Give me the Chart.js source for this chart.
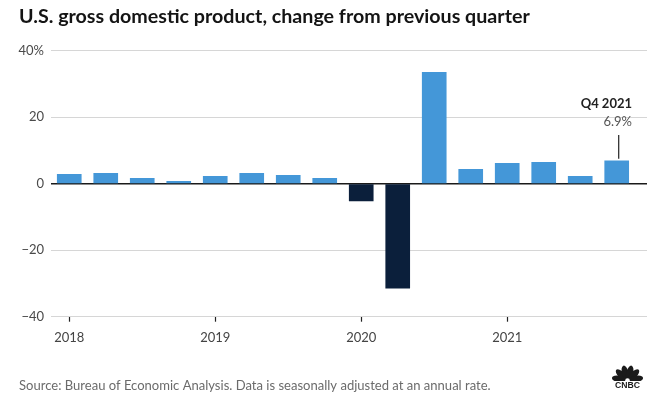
<!DOCTYPE html>
<html>
<head>
<meta charset="utf-8">
<script src="https://cdn.jsdelivr.net/npm/chart.js@4"></script>
<style>
html,body{margin:0;padding:0;background:#fff;}
#wrap{position:relative;width:660px;height:399px;}
</style>
</head>
<body>
<div id="wrap"><canvas id="c" width="660" height="399"></canvas></div>
<script>
const quarters = ['Q1 2018','Q2 2018','Q3 2018','Q4 2018','Q1 2019','Q2 2019','Q3 2019','Q4 2019','Q1 2020','Q2 2020','Q3 2020','Q4 2020','Q1 2021','Q2 2021','Q3 2021','Q4 2021'];
const gdpChange = [2.8, 3.1, 1.6, 0.7, 2.2, 3.1, 2.5, 1.6, -5.2, -31.4, 33.5, 4.3, 6.1, 6.4, 2.2, 6.9];
const yearLabels = ['2018','2019','2020','2021'];
const yearTickIndex = [0, 4, 8, 12];
const yTicks = [-40, -20, 0, 20, 40];
const titleText = 'U.S. gross domestic product, change from previous quarter';
const sourceText = 'Source: Bureau of Economic Analysis. Data is seasonally adjusted at an annual rate.';
const calloutTitle = 'Q4 2021';
const calloutValue = '6.9%';

const FONT = 'Lato, "Open Sans", sans-serif';
const BLUE = '#4497d8';
const NAVY = '#0b1f3b';

function fitFont(ctx, text, weight, targetW, base, fam) {
  ctx.font = weight + ' ' + base + 'px ' + (fam || FONT);
  const w = ctx.measureText(text).width;
  return base * targetW / w;
}

const decor = {
  id: 'decor',
  afterDraw(chart) {
    const ctx = chart.ctx;
    ctx.save();
    // title
    let fs = fitFont(ctx, titleText, 'bold', 511, 17);
    ctx.font = 'bold ' + fs.toFixed(2) + 'px ' + FONT;
    ctx.fillStyle = '#141414';
    ctx.textAlign = 'left';
    ctx.textBaseline = 'alphabetic';
    ctx.fillText(titleText, 19, 22.5);
    // source
    fs = fitFont(ctx, sourceText, 'normal', 472, 12.5);
    ctx.font = 'normal ' + fs.toFixed(2) + 'px ' + FONT;
    ctx.fillStyle = '#6b6b6b';
    ctx.textBaseline = 'middle';
    ctx.fillText(sourceText, 19, 386);
    // callout
    const xs = chart.scales.x, ys = chart.scales.y;
    const last = gdpChange.length - 1;
    const bx = xs.getPixelForValue(last) + 2;
    const by = ys.getPixelForValue(gdpChange[last]);
    ctx.strokeStyle = '#222';
    ctx.lineWidth = 1.2;
    ctx.beginPath();
    ctx.moveTo(bx, by - 2);
    ctx.lineTo(bx, 135);
    ctx.stroke();
    ctx.textAlign = 'right';
    ctx.font = 'bold 13px ' + FONT;
    ctx.fillStyle = '#222';
    ctx.fillText(calloutTitle, 632, 104);
    ctx.font = 'normal 13px ' + FONT;
    ctx.fillStyle = '#555';
    ctx.fillText(calloutValue, 632, 122);
    // CNBC logo
    const cx = 627.5, cy = 381;
    ctx.fillStyle = '#1b1b1b';
    const angles = [-168, -135, -105, -75, -45, -12];
    angles.forEach(a => {
      const r = a * Math.PI / 180;
      ctx.save();
      ctx.translate(cx + Math.cos(r) * 8.3, cy + Math.sin(r) * 8.3);
      ctx.rotate(r);
      ctx.beginPath();
      ctx.ellipse(0, 0, 7.6, 3.4, 0, 0, Math.PI * 2);
      ctx.fill();
      ctx.restore();
    });
    ctx.fillStyle = '#fff';
    ctx.fillRect(cx - 15, cy, 30, 2);
    ctx.beginPath();
    ctx.arc(cx, cy - 0.5, 2.3, 0, Math.PI * 2);
    ctx.fill();
    ctx.fillStyle = '#1b1b1b';
    const lf = '"Liberation Sans", Arial, sans-serif';
    ctx.font = '900 9px ' + lf;
    const tw = ctx.measureText('CNBC').width;
    ctx.save();
    ctx.translate(cx, 386);
    ctx.scale(25 / tw, 1);
    ctx.textAlign = 'center';
    ctx.fillText('CNBC', 0, 0);
    ctx.restore();
    ctx.restore();
  }
};

new Chart(document.getElementById('c'), {
  type: 'bar',
  data: {
    labels: quarters,
    datasets: [{
      data: gdpChange.map((v, i) => ({ x: i, y: v })),
      backgroundColor: gdpChange.map(v => v < 0 ? NAVY : BLUE),
      barThickness: 24,
      borderWidth: 0
    }]
  },
  options: {
    responsive: false,
    animation: false,
    devicePixelRatio: 1,
    layout: { padding: { top: 50.7, right: 13, left: 0, bottom: 0 } },
    plugins: { legend: { display: false }, tooltip: { enabled: false } },
    scales: {
      x: {
        type: 'linear',
        offset: false,
        min: -0.5,
        max: 15.83,
        afterBuildTicks(s) { s.ticks = yearTickIndex.map(v => ({ value: v })); },
        afterFit(s) { s.height = 82.3; },
        ticks: {
          autoSkip: false,
          maxRotation: 0,
          padding: 8,
          color: '#444',
          font: { family: FONT, size: 13 },
          callback(v) { const k = yearTickIndex.indexOf(v); return k >= 0 ? yearLabels[k] : ''; }
        },
        grid: { offset: false, drawOnChartArea: false, drawTicks: true, tickLength: 5, tickColor: '#222', tickWidth: 1.2 },
        border: { display: false }
      },
      y: {
        min: -40,
        max: 40,
        afterBuildTicks(s) { s.ticks = yTicks.map(v => ({ value: v })); },
        afterFit(s) { s.width = 51; },
        ticks: {
          padding: 7,
          color: '#4a4a4a',
          font: { family: FONT, size: 13 },
          callback(v) { if (v === 40) return '40%'; if (v < 0) return '\u2212' + Math.abs(v); return String(v); }
        },
        grid: {
          drawTicks: false,
          color: ctx => ctx.tick && ctx.tick.value === 0 ? '#1a1a1a' : '#d6d6d6',
          lineWidth: ctx => ctx.tick && ctx.tick.value === 0 ? 1.6 : 1
        },
        border: { display: false }
      }
    }
  },
  plugins: [decor]
});
</script>
</body>
</html>
